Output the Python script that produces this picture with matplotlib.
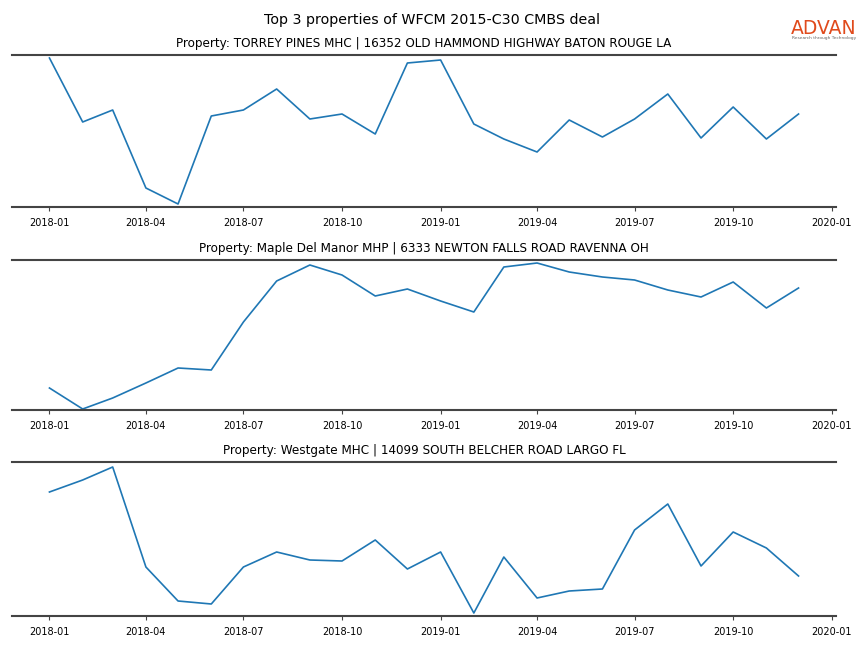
import matplotlib
matplotlib.use("Agg")
import matplotlib.pyplot as plt
import matplotlib.dates as mdates
import pandas as pd
import numpy as np

months = pd.date_range("2018-01-01", "2019-12-01", freq="MS")

titles = [
    "Property: TORREY PINES MHC | 16352 OLD HAMMOND HIGHWAY BATON ROUGE LA",
    "Property: Maple Del Manor MHP | 6333 NEWTON FALLS ROAD RAVENNA OH",
    "Property: Westgate MHC | 14099 SOUTH BELCHER ROAD LARGO FL",
]

torrey = [149, 85, 97, 19, 3, 91, 97, 118, 88, 93, 73, 144,
          147, 83, 68, 55, 87, 70, 88, 113, 69, 100, 68, 93]
maple = [22, 1, 12, 27, 42, 40, 88, 129, 145, 135, 114, 121,
         109, 98, 143, 147, 138, 133, 130, 120, 113, 128, 102, 122]
westgate = [124, 136, 149, 49, 15, 12, 49, 64, 56, 55, 76, 47,
            64, 3, 59, 18, 25, 27, 86, 112, 50, 84, 68, 40]
series = [torrey, maple, westgate]
ylims = [(0, 152), (0, 150), (0, 154)]

fig = plt.figure(figsize=(8.64, 6.48), dpi=100)
positions = [
    (12/864, 1-207/648, 824/864, 152/648),
    (12/864, 1-410/648, 824/864, 150/648),
    (12/864, 1-616/648, 824/864, 154/648),
]

for pos, vals, title, yl in zip(positions, series, titles, ylims):
    ax = fig.add_axes(pos)
    ax.plot(months, vals, color="#1f77b4", linewidth=1.2)
    ax.set_ylim(*yl)
    ax.set_title(title, fontsize=8.65, pad=6)
    for s in ["left", "right"]:
        ax.spines[s].set_visible(False)
    for s in ["top", "bottom"]:
        ax.spines[s].set_color("#444444")
        ax.spines[s].set_linewidth(1.5)
    ax.set_yticks([])
    ax.xaxis.set_major_locator(mdates.MonthLocator(bymonth=[1, 4, 7, 10]))
    ax.xaxis.set_major_formatter(mdates.DateFormatter("%Y-%m"))
    ax.tick_params(axis="x", labelsize=7, length=3, width=0.8, color="#444444", pad=5)

fig.text(0.5, 1-20/648, "Top 3 properties of WFCM 2015-C30 CMBS deal",
         ha="center", va="center", fontsize=10.3)
fig.text(824/864, 1-28/648, "ADVAN", ha="center", va="center",
         fontsize=13.5, color="#e04a1c")
fig.text(824/864, 1-38.5/648, "Research through Technology", ha="center", va="center",
         fontsize=3.2, color="#666666")

fig.savefig("out.png", dpi=100)
